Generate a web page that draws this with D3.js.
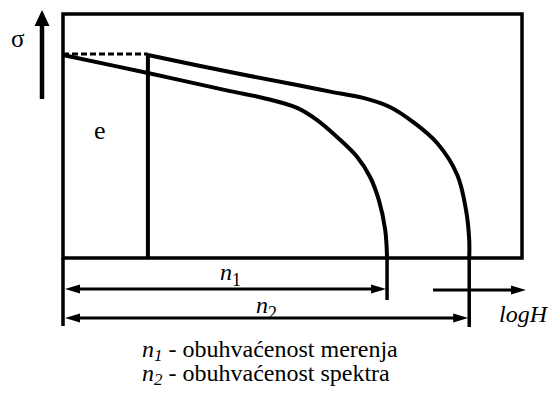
<!DOCTYPE html>
<html>
<head>
<meta charset="utf-8">
<script src="https://cdn.jsdelivr.net/npm/d3@7"></script>
</head>
<body style="margin:0">
<script>
// curve points in chart units (logH 0..100, sigma 0..100)
const lowerX = [0, 18.5, 36.4, 43.6, 51.0, 55.3, 59.7, 64.1, 66.9, 68.8, 70.2, 70.6];
const lowerY = [83.2, 75.8, 68.4, 65.6, 61.5, 56.6, 49.6, 41.4, 33.2, 23.8, 11.5, 0];
const upperX = [18.5, 36.4, 51.0, 58.2, 65.4, 71.2, 76.3, 81.5, 85.9, 87.8, 88.5, 88.5];
const upperY = [83.2, 76.2, 70.9, 68.2, 65.6, 61.9, 55.7, 47.1, 34.0, 19.7, 7.4, 0];
const dashX = [0, 18.5];
const dashY = [83.6, 83.6];
const eLimit = 18.5;   // endurance part ends here

const captions = [
    {n: 'n', sub: '1', txt: ' - obuhvaćenost merenja'},
    {n: 'n', sub: '2', txt: ' - obuhvaćenost spektra'}
];

const x = d3.scaleLinear().domain([0, 100]).range([63, 522]);
const y = d3.scaleLinear().domain([0, 100]).range([258, 14]);

let svg = d3.select('body').append('svg').attr('width', 556).attr('height', 396);

// filled arrow head, tip at (tx,ty), pointing along angle a
function head(tx, ty, a, len, w) {
    const c = Math.cos(a), s = Math.sin(a);
    const bx = tx - c * len, by = ty - s * len;
    svg.append('path')
        .attr('d', `M${tx},${ty}L${bx - s * w / 2},${by + c * w / 2}L${bx + s * w / 2},${by - c * w / 2}Z`)
        .attr('fill', '#000');
}

const line = d3.line()
    .x((d) => x(d[0]))
    .y((d) => y(d[1]))
    .curve(d3.curveCatmullRom.alpha(0.5));

// frame
svg.append('path')
    .attr('d', `M${x(0)},${y(0)}L${x(0)},${y(100)}L${x(100)},${y(100)}L${x(100)},${y(0)}Z`)
    .attr('fill', 'none').attr('stroke', '#000').attr('stroke-width', 3.5);

// extensions below the frame
const n1Y = 289, n2Y = 318;
const endL = lowerX[lowerX.length - 1], endU = upperX[upperX.length - 1];
[[0, 326], [endL, 300], [endU, 327]].forEach(([v, yb]) => {
    svg.append('line')
        .attr('x1', x(v)).attr('x2', x(v))
        .attr('y1', y(0)).attr('y2', yb)
        .attr('stroke', '#000').attr('stroke-width', 3.5);
});

// vertical at end of endurance part
svg.append('line')
    .attr('x1', x(eLimit)).attr('x2', x(eLimit))
    .attr('y1', y(dashY[0])).attr('y2', y(0))
    .attr('stroke', '#000').attr('stroke-width', 4);

// dashed line
svg.append('path')
    .attr('d', line(dashX.map((v, i) => [v, dashY[i]])))
    .attr('fill', 'none').attr('stroke', '#000')
    .attr('stroke-width', 3).attr('stroke-dasharray', '6,3');

// curves
[[lowerX, lowerY], [upperX, upperY]].forEach(([xs, ys]) => {
    svg.append('path')
        .attr('d', line(xs.map((v, i) => [v, ys[i]])))
        .attr('fill', 'none').attr('stroke', '#000')
        .attr('stroke-width', 4);
});

// n1, n2 dimension arrows
[[endL, n1Y], [endU, n2Y]].forEach(([v, yy]) => {
    svg.append('line')
        .attr('x1', x(0) + 10).attr('x2', x(v) - 10)
        .attr('y1', yy).attr('y2', yy)
        .attr('stroke', '#000').attr('stroke-width', 3);
    head(x(0) + 2, yy, Math.PI, 15, 9);
    head(x(v) - 1, yy, 0, 15, 9);
});

// logH axis arrow
svg.append('line')
    .attr('x1', 433).attr('x2', 516)
    .attr('y1', 290).attr('y2', 290)
    .attr('stroke', '#000').attr('stroke-width', 3);
head(526, 290, 0, 15, 9);

// sigma arrow
svg.append('line')
    .attr('x1', 42).attr('x2', 42)
    .attr('y1', 99).attr('y2', 20)
    .attr('stroke', '#000').attr('stroke-width', 4.5);
head(42, 10, -Math.PI / 2, 16, 15);

// labels
const plain = [
    {t: 'σ', x: 11, y: 47, s: 25, it: 'normal'},
    {t: 'e', x: 94, y: 139, s: 26, it: 'normal'},
    {t: 'logH', x: 499, y: 322, s: 24, it: 'italic'}
];
svg.selectAll('text.lab').data(plain).enter().append('text')
    .attr('class', 'lab')
    .attr('x', (d) => d.x).attr('y', (d) => d.y)
    .attr('font-family', 'Liberation Serif')
    .attr('font-size', (d) => d.s)
    .attr('font-style', (d) => d.it)
    .text((d) => d.t);

function nLabel(xx, yy, sub) {
    let t = svg.append('text').attr('x', xx).attr('y', yy)
        .attr('font-family', 'Liberation Serif').attr('font-size', 24);
    t.append('tspan').attr('font-style', 'italic').text('n');
    t.append('tspan').attr('dy', 6).attr('font-size', 18).text(sub);
}
nLabel(220, 280, '1');
nLabel(256, 313, '2');

// caption
captions.forEach((c, i) => {
    let t = svg.append('text').attr('x', 142).attr('y', 357 + i * 24)
        .attr('font-family', 'Liberation Serif').attr('font-size', 24);
    t.append('tspan').attr('font-style', 'italic').text(c.n);
    t.append('tspan').attr('dy', 4).attr('font-size', 17)
        .attr('font-style', 'italic').text(c.sub);
    t.append('tspan').attr('dy', -4).text(c.txt);
});
</script>
</body>
</html>
